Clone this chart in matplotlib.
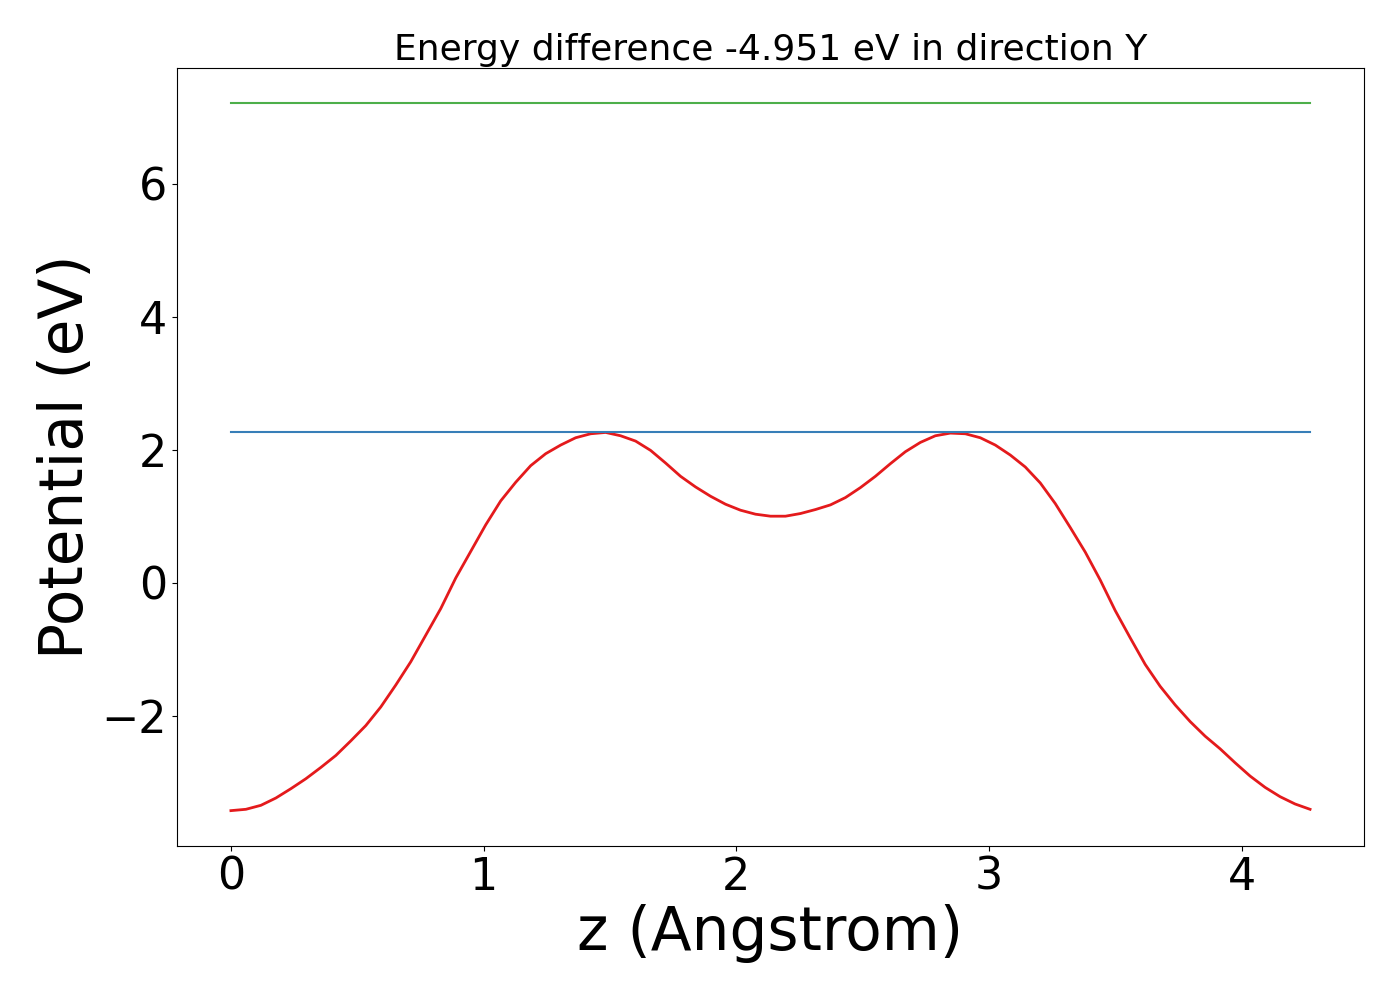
import numpy as np
import matplotlib
matplotlib.use("Agg")
import matplotlib.pyplot as plt

# =========================
# data
# =========================
z_max = 4.27
potential = [
    -3.43, -3.41, -3.35, -3.24, -3.10, -2.95, -2.78, -2.60, -2.38, -2.15,
    -1.87, -1.54, -1.19, -0.79, -0.39, 0.07, 0.47, 0.87, 1.23, 1.51,
    1.76, 1.94, 2.07, 2.18, 2.24, 2.26, 2.21, 2.13, 1.99, 1.80,
    1.60, 1.44, 1.30, 1.18, 1.09, 1.03, 1.00, 1.00, 1.04, 1.10,
    1.17, 1.28, 1.43, 1.60, 1.79, 1.97, 2.11, 2.21, 2.25, 2.24,
    2.18, 2.07, 1.92, 1.74, 1.50, 1.19, 0.83, 0.46, 0.04, -0.42,
    -0.83, -1.23, -1.56, -1.84, -2.09, -2.31, -2.50, -2.71, -2.91, -3.08,
    -3.22, -3.33, -3.41,
]
z = np.linspace(0, z_max, len(potential))

barrier_max = 2.26
upper_level = 7.211
energy_diff = barrier_max - upper_level

# =========================
# plot
# =========================
fig = plt.figure(figsize=(14, 10), dpi=100)
ax = fig.add_axes([0.1264, 0.154, 0.8479, 0.778])

ax.plot(z, potential, color="#e41a1c", lw=2)
ax.plot([z[0], z[-1]], [barrier_max, barrier_max], color="#377eb8", lw=1.5)
ax.plot([z[0], z[-1]], [upper_level, upper_level], color="#4daf4a", lw=1.5)

ax.set_title(f"Energy difference {energy_diff:.3f} eV in direction Y", fontsize=26)
ax.set_xlabel("z (Angstrom)", fontsize=43)
ax.set_ylabel("Potential (eV)", fontsize=43)
ax.tick_params(labelsize=32)

fig.savefig("out.png", dpi=100)
